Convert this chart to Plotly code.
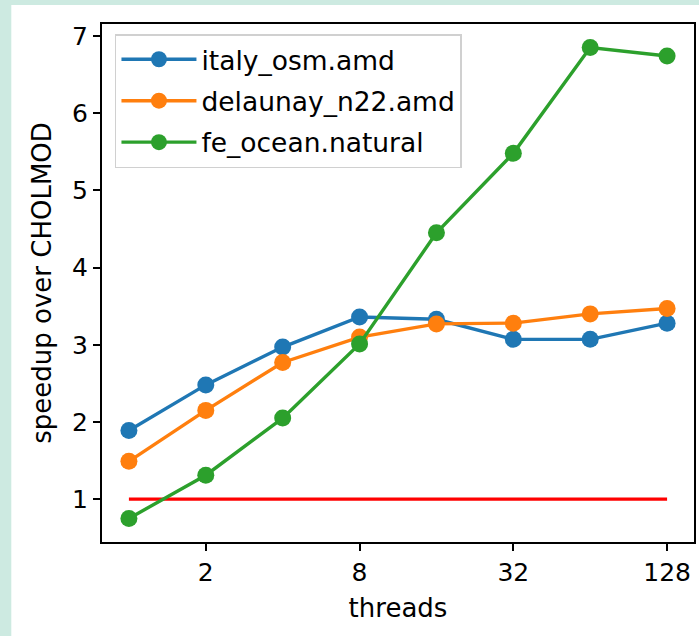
import plotly.graph_objects as go

threads = [1, 2, 4, 8, 16, 32, 64, 128]
italy_osm = [1.89, 2.48, 2.97, 3.36, 3.33, 3.07, 3.07, 3.28]
delaunay_n22 = [1.49, 2.15, 2.77, 3.10, 3.27, 3.28, 3.40, 3.47]
fe_ocean = [0.75, 1.31, 2.05, 3.01, 4.45, 5.48, 6.85, 6.74]
baseline = [1, 1]
baseline_x = [1, 128]
tick_vals = [2, 8, 32, 128]
tick_text = ["2", "8", "32", "128"]

FONT = "DejaVu Sans"
MINT = "#cdeae1"
W, H = 699, 636
L, R, T, B = 102, 3, 24, 94
pw, ph = W - L - R, H - T - B

def px_x(p):
    return (p - L) / pw

def px_y(p):
    return (H - B - p) / ph

fig = go.Figure()
fig.add_trace(go.Scatter(x=baseline_x, y=baseline, mode="lines",
                         line=dict(color="#ff0000", width=3.4), showlegend=False))
series = [("italy_osm.amd", italy_osm, "#1f77b4"),
          ("delaunay_n22.amd", delaunay_n22, "#ff7f0e"),
          ("fe_ocean.natural", fe_ocean, "#2ca02c")]
for name, vals, col in series:
    fig.add_trace(go.Scatter(x=threads, y=vals, mode="lines+markers", name=name,
                             legendgroup=name,
                             line=dict(color=col, width=3.4),
                             marker=dict(color=col, size=17)))

fig.add_shape(type="rect", xref="paper", yref="paper", layer="below",
              x0=px_x(11), x1=px_x(705), y0=px_y(645), y1=px_y(5),
              fillcolor="white", line=dict(width=0))

fig.update_layout(
    width=W, height=H,
    margin=dict(l=L, r=R, t=T, b=B),
    paper_bgcolor=MINT,
    plot_bgcolor="white",
    font=dict(family=FONT, size=25, color="black"),
    showlegend=True,
    legend=dict(x=px_x(115), y=px_y(34), xanchor="left", yanchor="top",
                bgcolor="white", bordercolor="#d0d0d0", borderwidth=1.5,
                font=dict(family=FONT, size=26.5), traceorder="grouped",
                tracegroupgap=4, itemwidth=75),
    xaxis=dict(type="log", range=[-0.10536, 2.2126], tickvals=tick_vals,
               ticktext=tick_text, showgrid=False, zeroline=False,
               showline=True, linecolor="black", linewidth=2, mirror=True,
               ticks="outside", ticklen=7, tickwidth=2, tickcolor="black",
               tickfont=dict(size=25),
               title=dict(text="threads", font=dict(size=26), standoff=13)),
    yaxis=dict(range=[0.445, 7.155], tickvals=[1, 2, 3, 4, 5, 6, 7],
               showgrid=False, zeroline=False,
               showline=True, linecolor="black", linewidth=2, mirror=True,
               ticks="outside", ticklen=7, tickwidth=2, tickcolor="black",
               tickfont=dict(size=25),
               title=dict(text="speedup over CHOLMOD", font=dict(size=26), standoff=13)),
)

fig.write_html("out.html", config={"displayModeBar": False}, post_script=(
    "document.body.style.margin='0';"
    "document.body.style.padding='0';"
    "document.body.style.background='" + MINT + "';"))
